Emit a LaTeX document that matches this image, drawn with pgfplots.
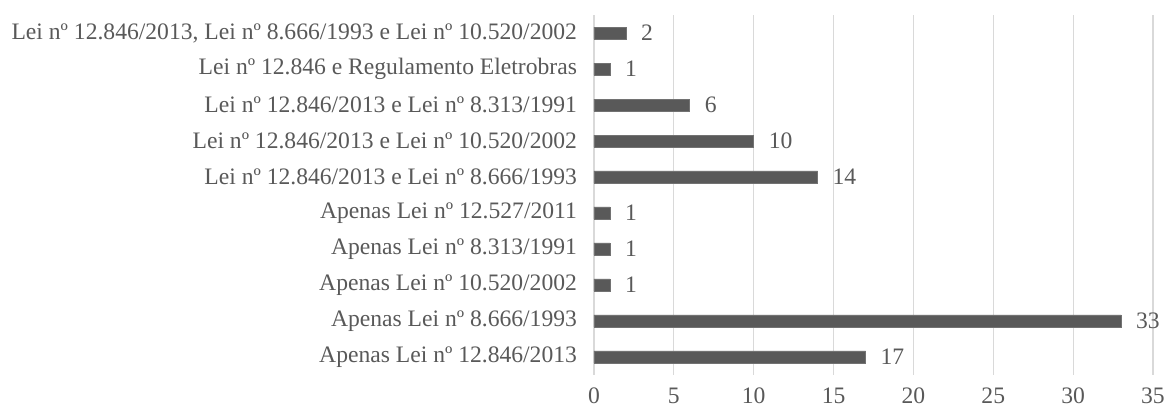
\documentclass[border=0pt]{standalone}
\usepackage{pgfplots}
\pgfplotsset{compat=1.18}
\usepackage{fontspec}
\setmainfont{Liberation Serif}
\definecolor{bar}{HTML}{595959}
\definecolor{txt}{HTML}{595959}
\definecolor{grid}{HTML}{D9D9D9}
\begin{document}
\begin{tikzpicture}
\path[use as bounding box] (-297pt,-18pt) rectangle (287pt,187.5pt);
\begin{axis}[
  scale only axis,
  width=279.5pt, height=180pt,
  at={(0,0)}, anchor=south west,
  xbar, bar width=6pt,
  xmin=0, xmax=35,
  ymin=-0.5, ymax=9.5,
  xtick={0,5,...,35},
  ytick={0,...,9},
  yticklabels={
    Apenas Lei nº 12.846/2013,
    Apenas Lei nº 8.666/1993,
    Apenas Lei nº 10.520/2002,
    Apenas Lei nº 8.313/1991,
    Apenas Lei nº 12.527/2011,
    Lei nº 12.846/2013 e Lei nº 8.666/1993,
    Lei nº 12.846/2013 e Lei nº 10.520/2002,
    Lei nº 12.846/2013 e Lei nº 8.313/1991,
    Lei nº 12.846 e Regulamento Eletrobras,
    {Lei nº 12.846/2013, Lei nº 8.666/1993 e Lei nº 10.520/2002}},
  axis y line*=left,
  separate axis lines,
  x axis line style={draw=none},
  y axis line style={draw=grid, line width=0.6pt},
  xmajorgrids, grid style={draw=grid, line width=0.6pt},
  major tick length=0pt,
  tick label style={font=\fontsize{11.8}{13}\selectfont, text=txt},
  /pgf/number format/assume math mode=true,
  xticklabel style={yshift=-3pt},
  yticklabel style={xshift=-5pt},
  nodes near coords,
  nodes near coords style={font=\fontsize{11.8}{13}\selectfont, text=txt, anchor=west, xshift=4pt},
]
\addplot[fill=bar, draw=bar!85!white] coordinates {
  (17,0) (33,1) (1,2) (1,3) (1,4) (14,5) (10,6) (6,7) (1,8) (2,9)
};
\end{axis}
\end{tikzpicture}
\end{document}
